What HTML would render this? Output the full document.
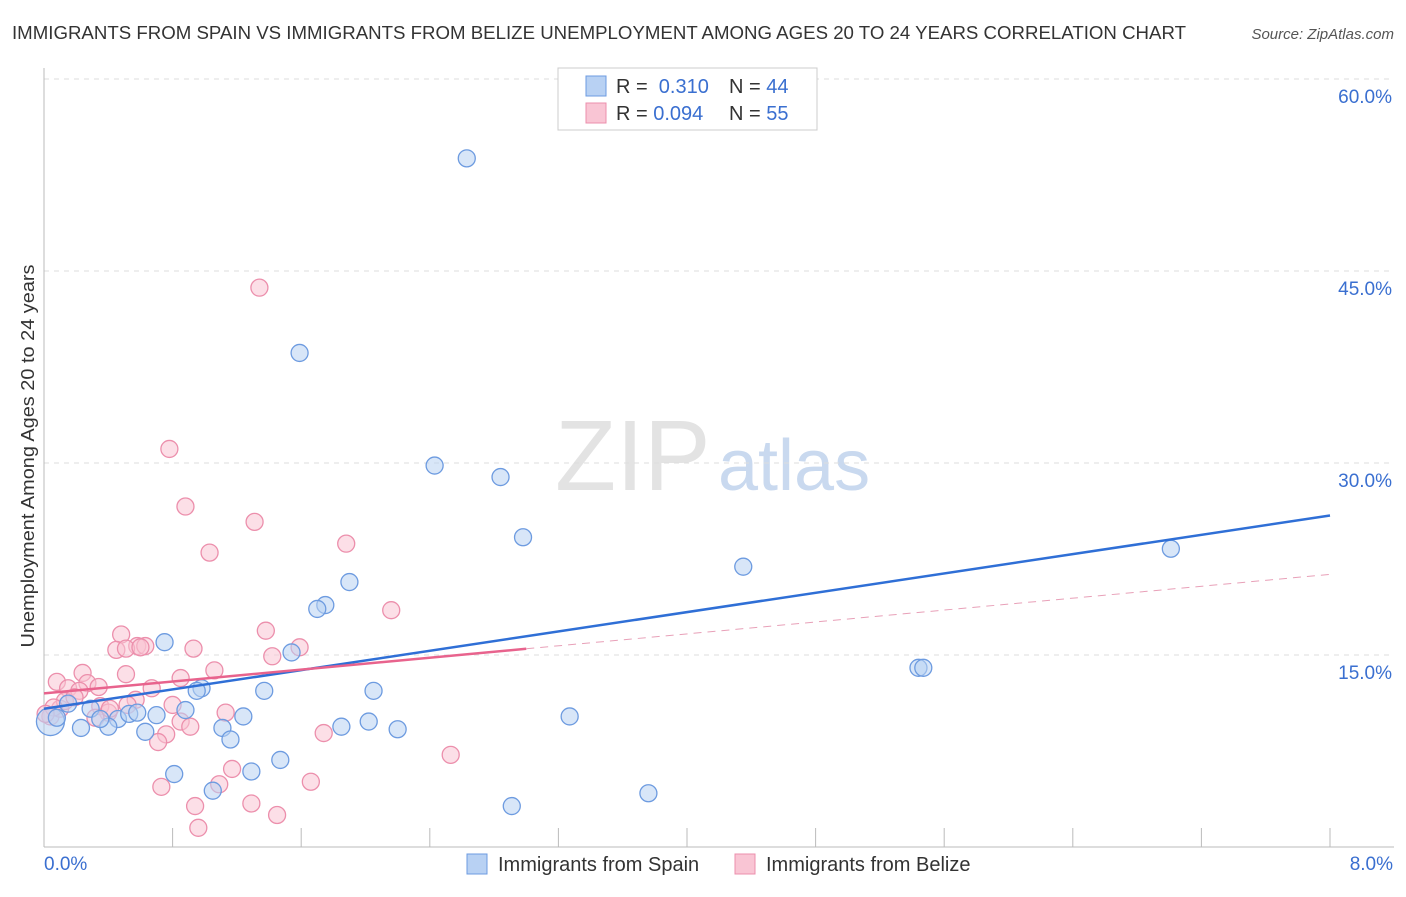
<!DOCTYPE html>
<html><head><meta charset="utf-8">
<style>
body{margin:0;background:#fff;font-family:"Liberation Sans",sans-serif;}
svg text{font-family:"Liberation Sans",sans-serif;}
</style></head>
<body>
<svg id="c" width="1406" height="892" xmlns="http://www.w3.org/2000/svg">
<text x="12" y="39" font-size="18" fill="#333" textLength="1174" lengthAdjust="spacingAndGlyphs">IMMIGRANTS FROM SPAIN VS IMMIGRANTS FROM BELIZE UNEMPLOYMENT AMONG AGES 20 TO 24 YEARS CORRELATION CHART</text>
<text x="1394" y="39" font-size="15" fill="#555" font-style="italic" text-anchor="end">Source: ZipAtlas.com</text>
<text x="0" y="0" transform="translate(34,456) rotate(-90)" font-size="18" fill="#333" text-anchor="middle" textLength="383" lengthAdjust="spacingAndGlyphs">Unemployment Among Ages 20 to 24 years</text>
<g><text x="555" y="490" font-size="100" fill="#ddd" font-family="Liberation Serif" opacity="0.8">ZIP</text><text x="718" y="490" font-size="72" fill="#c9d9ef">atlas</text></g>
<g id="grid"></g><g id="pts"></g><g id="lines"></g>
<g>
<rect x="558" y="68" width="259" height="62" fill="#fff" stroke="#ccc"/>
<rect x="586" y="76" width="20" height="20" fill="#b8d1f3" stroke="#6d9be0"/>
<rect x="586" y="103" width="20" height="20" fill="#f9c5d4" stroke="#ec8fac"/>
<text x="616" y="93" font-size="20" fill="#333">R = <tspan fill="#3a6fd0">&#160;0.310</tspan><tspan x="729">N = </tspan><tspan fill="#3a6fd0">44</tspan></text>
<text x="616" y="120" font-size="20" fill="#333">R = <tspan fill="#3a6fd0">0.094</tspan><tspan x="729">N = </tspan><tspan fill="#3a6fd0">55</tspan></text>
</g>
<g>
<rect x="467" y="854" width="20" height="20" fill="#b8d1f3" stroke="#6d9be0"/>
<text x="498" y="871" font-size="20" fill="#333">Immigrants from Spain</text>
<rect x="735" y="854" width="20" height="20" fill="#f9c5d4" stroke="#ec8fac"/>
<text x="766" y="871" font-size="20" fill="#333">Immigrants from Belize</text>
</g>
</svg>
<script>
const yTicks=[15,30,45,60];
const xTickLabels=["0.0%","8.0%"];
const spainX=[2.63,1.59,2.43,2.84,2.98,4.35,7.01,1.90,1.75,1.70,0.75,1.54,5.44,5.47,0.98,0.95,1.37,2.05,0.15,0.46,0.53,0.58,0.70,0.88,1.24,3.27,1.85,2.02,2.20,1.11,0.63,1.16,0.23,0.40,0.04,0.08,0.81,1.29,1.47,1.05,2.91,3.76,0.29,0.35];
const spainY=[53.8,38.6,29.8,28.9,24.2,21.9,23.3,20.7,18.9,18.6,16.0,15.2,14.0,14.0,12.4,12.2,12.2,12.2,11.2,10.0,10.4,10.5,10.3,10.7,10.2,10.2,9.4,9.8,9.2,9.3,9.0,8.4,9.3,9.4,9.8,10.1,5.7,5.9,6.8,4.4,3.2,4.2,10.8,10.0];
const belizeX=[1.34,0.78,0.88,1.31,1.03,1.88,2.16,1.38,0.48,0.58,0.63,0.45,0.51,1.59,0.93,1.42,0.24,0.51,1.06,0.85,0.08,0.15,0.27,0.34,0.22,0.67,0.57,0.35,0.80,0.52,1.13,0.40,0.32,0.85,0.91,0.76,1.74,0.71,1.17,2.53,1.66,0.73,1.09,0.94,1.29,1.45,0.96,0.04,0.10,0.13,0.41,0.19,0.06,0.60,0.01];
const belizeY=[43.7,31.1,26.6,25.4,23.0,23.7,18.5,16.9,16.6,15.7,15.7,15.4,15.5,15.6,15.5,14.9,13.6,13.5,13.8,13.2,12.9,12.4,12.8,12.5,12.2,12.4,11.5,11.0,11.1,11.1,10.5,10.5,10.1,9.8,9.4,8.8,8.9,8.2,6.1,7.2,5.1,4.7,4.9,3.2,3.4,2.5,1.5,10.2,10.8,11.4,10.8,11.7,10.9,15.6,10.4];
const trends={spain:[10.8,25.9],belize:[12.0,21.3]};
const X=v=>44+v*160.75, Y=v=>847-v*12.8;
const NS="http://www.w3.org/2000/svg";
function mk(p,t,a){const e=document.createElementNS(NS,t);for(const k in a)e.setAttribute(k,a[k]);document.getElementById(p).appendChild(e);return e;}
yTicks.forEach(t=>{
 const l=mk('grid','line',{x1:44,x2:1394,y1:Y(t),y2:Y(t),stroke:'#ddd','stroke-dasharray':'5,5'});
 
 
 const tx=mk('grid','text',{x:1392,y:Y(t)+24,'font-size':19,fill:'#3a6fd0','text-anchor':'end'});tx.textContent=t.toFixed(1)+'%';
 
 
});
mk('grid','line',{x1:44,x2:44,y1:68,y2:847,stroke:'#bbb'});
mk('grid','line',{x1:44,x2:1394,y1:847,y2:847,stroke:'#bbb'});
for(let i=1;i<=10;i++){mk('grid','line',{x1:X(i*0.8),x2:X(i*0.8),y1:828,y2:847,stroke:'#bbb'});}
const xl1=mk('grid','text',{x:44,y:870,'font-size':19,fill:'#3a6fd0'});xl1.textContent=xTickLabels[0];


const xl2=mk('grid','text',{x:1393,y:870,'font-size':19,fill:'#3a6fd0','text-anchor':'end'});xl2.textContent=xTickLabels[1];


function pts(xs,ys,f,s,n,big){xs.forEach((x,i)=>{const c=mk('pts','circle',{cx:X(x),cy:Y(ys[i]),r:(i===big?14:8.5),fill:f,'fill-opacity':0.55,stroke:s,'stroke-width':1.3});
 
 });}
pts(belizeX,belizeY,'#f9c5d4','#ec8fac','point-belize',-1);
pts(spainX,spainY,'#b8d1f3','#6d9be0','point-spain',34);
const bl=mk('lines','line',{x1:X(0),y1:Y(trends.spain[0]),x2:X(8),y2:Y(trends.spain[1]),stroke:'#2f6fd6','stroke-width':2.5});


const pm=trends.belize[0]+(trends.belize[1]-trends.belize[0])*3/8;
const pl=mk('lines','line',{x1:X(0),y1:Y(trends.belize[0]),x2:X(3),y2:Y(pm),stroke:'#e8638d','stroke-width':2.5});


const pd=mk('lines','line',{x1:X(3),y1:Y(pm),x2:X(8),y2:Y(trends.belize[1]),stroke:'#e8a0b8','stroke-width':1,'stroke-dasharray':'8,6'});


</script>
</body></html>
